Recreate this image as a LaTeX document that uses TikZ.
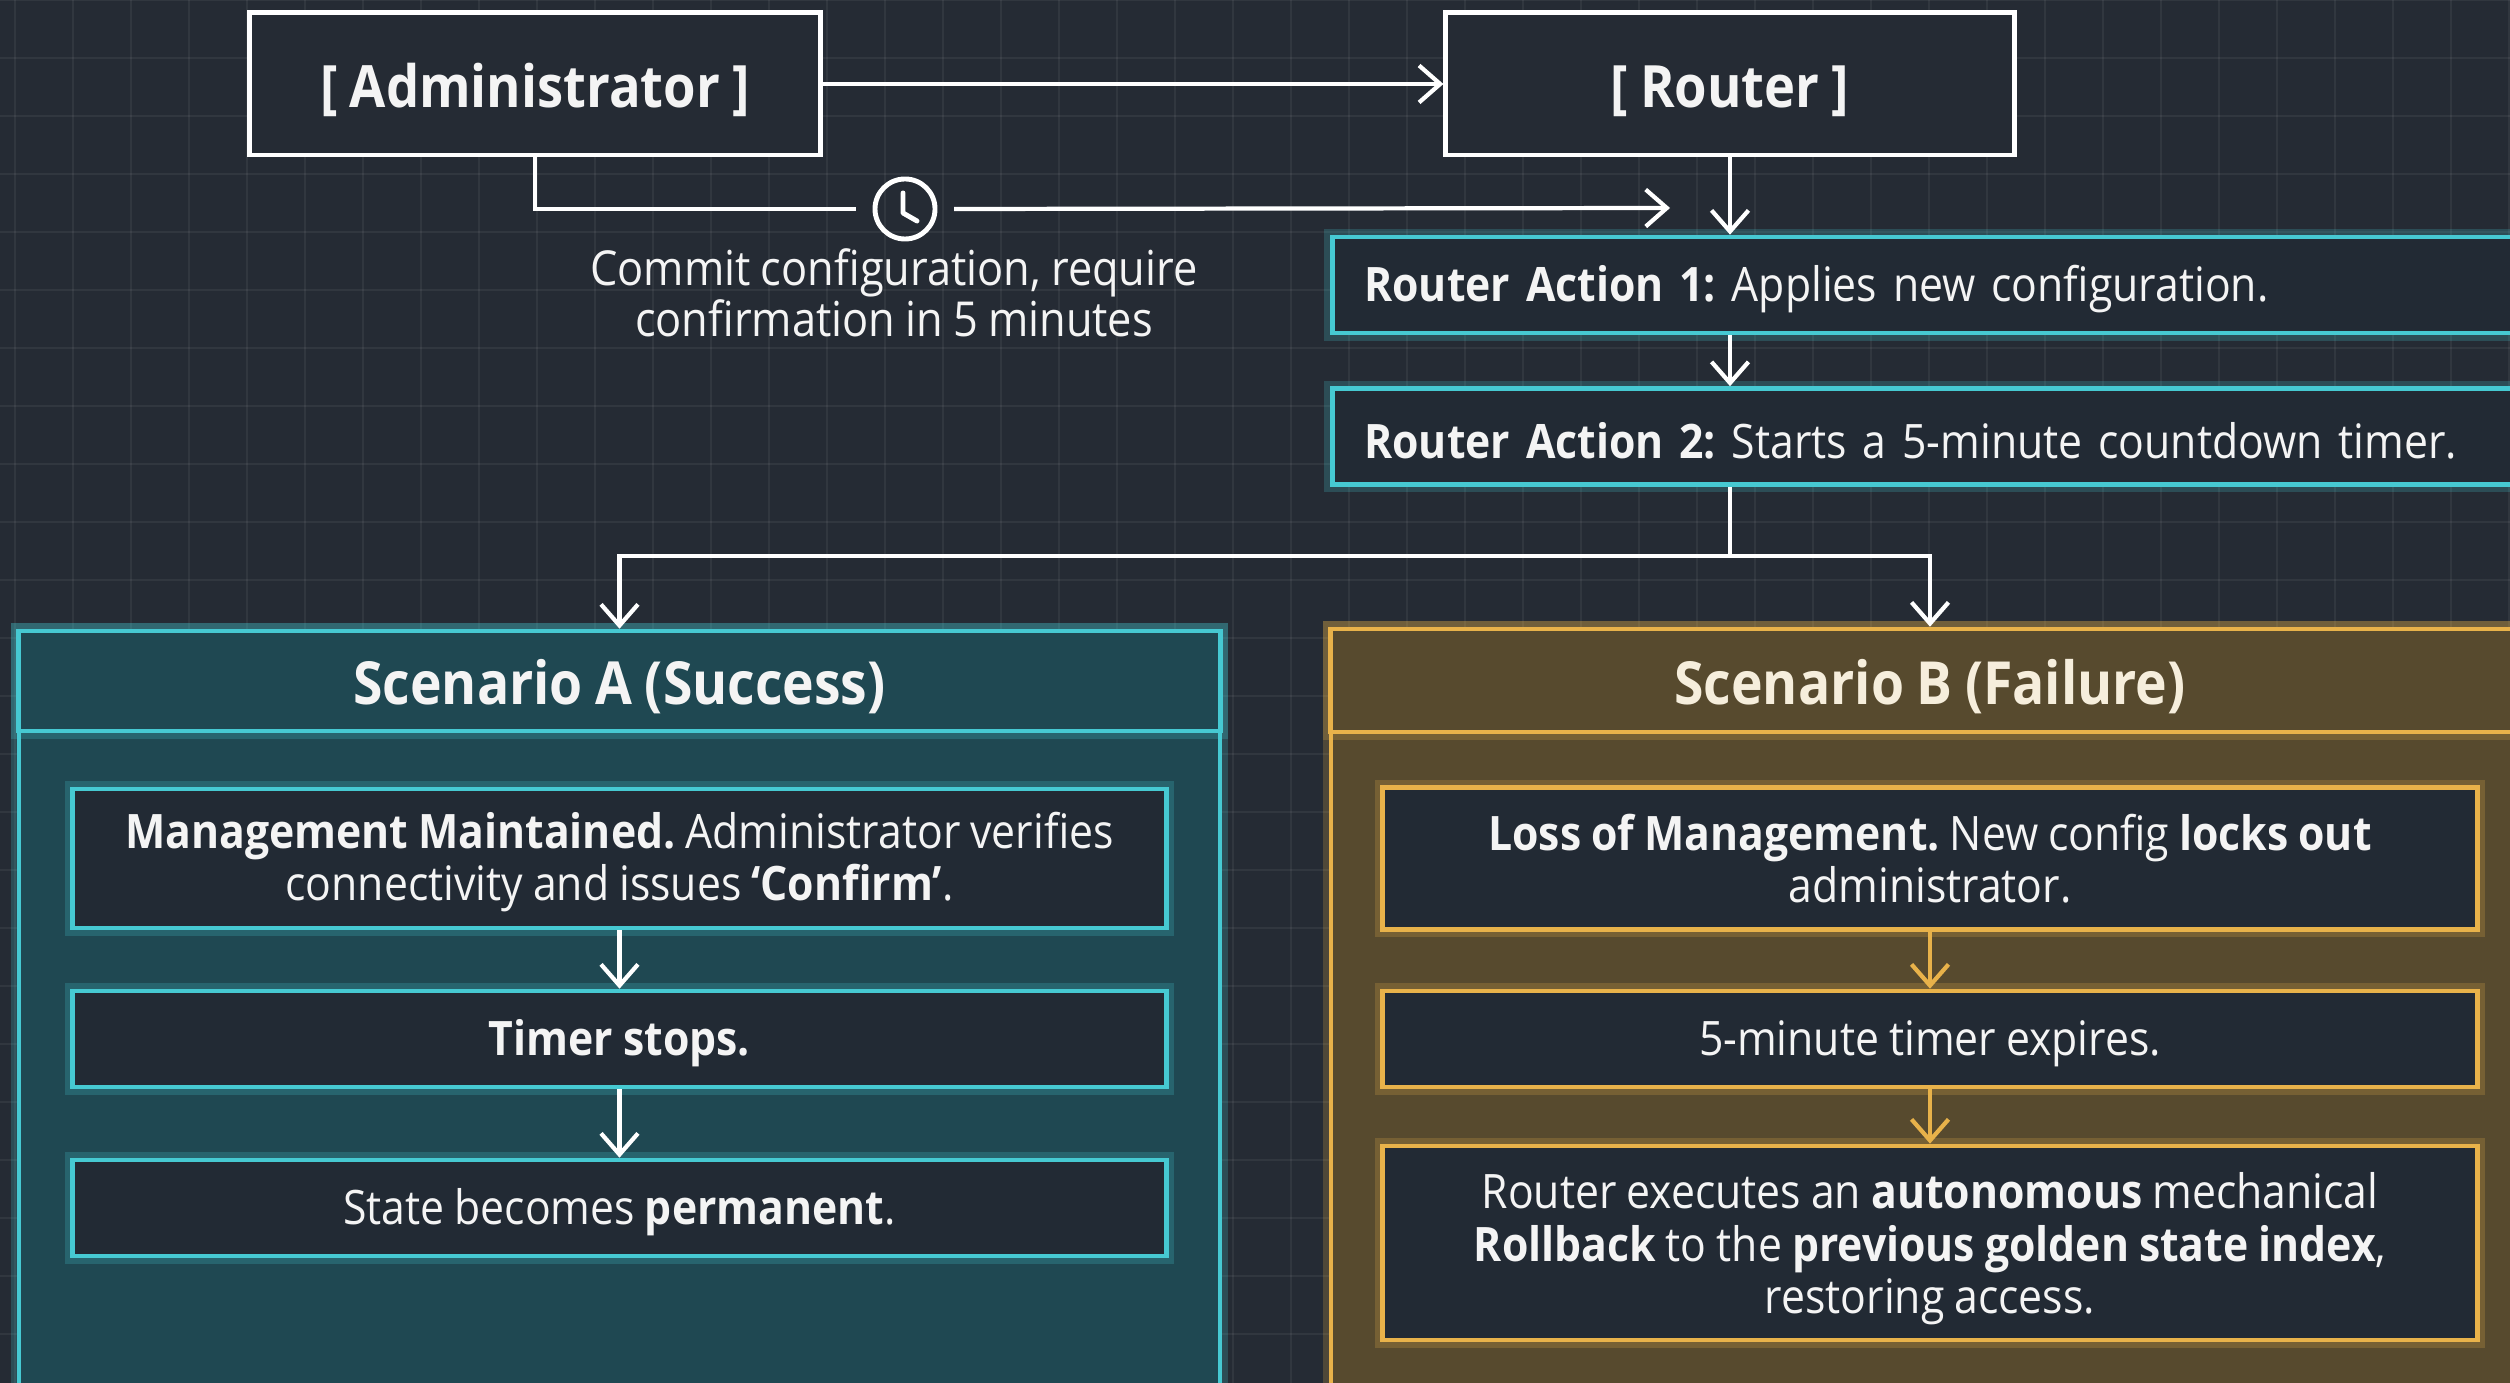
\documentclass[tikz,border=0pt]{standalone}
\usepackage{fontspec}
\setmainfont{Open Sans}[FakeStretch=0.9, WordSpace=0.9]
\usetikzlibrary{arrows.meta}
\definecolor{bg}{HTML}{252B34}
\definecolor{teal1}{HTML}{46C9D2}
\definecolor{gold1}{HTML}{E8B24A}
\definecolor{scAfill}{HTML}{1F4852}
\definecolor{scBfill}{HTML}{574A2E}
\definecolor{innerfill}{HTML}{222A34}
\definecolor{txt}{HTML}{F4F4F4}
\definecolor{creamtxt}{HTML}{F6EEDC}
\begin{document}
\frenchspacing
\begin{tikzpicture}[x=0.01cm,y=-0.01cm,
  lift/.style={execute at begin node={\rule{0pt}{#1}}},
  lift/.default=0.95em,
  bodyfont/.style={font=\fontsize{13.5pt}{14.9pt}\selectfont\frenchspacing, lift},
  titlefont/.style={font=\fontsize{16.6pt}{19pt}\selectfont\bfseries, lift},
  whitebox/.style={draw=white, line width=1.4pt, fill=bg, text=txt, titlefont, inner sep=0pt},
  glowteal/.style={preaction={draw=teal1, line width=4.5pt, draw opacity=0.22}},
  glowgold/.style={preaction={draw=gold1, line width=4.5pt, draw opacity=0.22}},
  actbox/.style={draw=teal1, line width=1.3pt, fill=innerfill, glowteal, text=txt, bodyfont,
     minimum width=12.3cm, minimum height=0.96cm, inner xsep=0.32cm, inner ysep=0pt,
     text width=11.66cm, align=left, anchor=west},
  innerA/.style={draw=teal1, line width=1.3pt, fill=innerfill, glowteal, text=txt, bodyfont,
     minimum width=10.93cm, inner sep=0pt, align=center},
  innerB/.style={draw=gold1, line width=1.3pt, fill=innerfill, glowgold, text=txt, bodyfont,
     minimum width=10.94cm, inner sep=0pt, align=center},
  headA/.style={draw=teal1, line width=1.3pt, fill=scAfill, glowteal, text=txt, titlefont,
     font=\fontsize{16.9pt}{19pt}\selectfont\bfseries,
     minimum width=12.01cm, minimum height=1.0cm, inner sep=0pt},
  headB/.style={draw=gold1, line width=1.3pt, fill=scBfill, glowgold, text=creamtxt, titlefont,
     font=\fontsize{16.9pt}{19pt}\selectfont\bfseries,
     minimum width=11.98cm, minimum height=1.03cm, inner sep=0pt},
  conn/.style={draw=white, line width=1.2pt},
  arr/.style={conn, -{Straight Barb[length=6pt,width=10.5pt]}},
  arrgold/.style={draw=gold1, line width=1.2pt, -{Straight Barb[length=6pt,width=10.5pt]}},
  gridline/.style={draw=white, line width=0.5pt, draw opacity=0.06},
  clockst/.style={circle, draw=white, line width=1.4pt, minimum size=0.6cm, inner sep=0pt, outer sep=0.19cm}
]
\useasboundingbox (0,0) rectangle (2510,1383);
\clip (0,0) rectangle (2510,1383);
\fill[bg] (0,0) rectangle (2510,1383);
% faint grid
\foreach \gx in {15,73,...,2510} \draw[gridline] (\gx,0) -- (\gx,1383);
\foreach \gy in {0,58,...,1383} \draw[gridline] (0,\gy) -- (2510,\gy);

% scenario panels (bodies)
\path[draw=teal1, line width=1.3pt, fill=scAfill, glowteal] (19,631) rectangle (1220,1440);
\path[draw=gold1, line width=1.3pt, fill=scBfill, glowgold] (1331,629) rectangle (2529,1440);

% top nodes
\node[whitebox, minimum width=5.7cm, minimum height=1.42cm] (admin) at (535,84) {[ Administrator ]};
\node[whitebox, minimum width=5.68cm, minimum height=1.42cm] (router) at (1730,84) {[ Router ]};

\node[clockst] (clock) at (905,209) {};
\draw[white, line width=1.4pt, line cap=round, line join=round]
  ([xshift=-0.02cm,yshift=0.16cm]clock.center) -- ([xshift=-0.02cm,yshift=-0.04cm]clock.center)
  -- ([xshift=0.12cm,yshift=-0.12cm]clock.center);
\coordinate (tipA) at (1670,208);

\node[text=txt, font=\fontsize{13.7pt}{14.6pt}\selectfont, lift, align=center] (commit) at (894,293)
  {Commit configuration, require\\confirmation in 5 minutes};

\node[actbox] (act1) at (1330,285) {\textbf{Router Action 1:} Applies new configuration.};
\node[actbox] (act2) at (1330,436.5) {\textbf{Router Action 2:} Starts a 5-minute countdown timer.};

% connectors top
\draw[arr] (admin.east) -- (router.west);
\draw[conn] (admin.south) |- (clock.west);
\draw[arr] (clock.east) -- (tipA);
\draw[arr] (router.south) -- (router.south |- act1.north);
\draw[arr] (router.south |- act1.south) -- (router.south |- act2.north);

% scenario headers
\node[headA] (scA) at (619.5,681) {Scenario A (Success)};
\node[headB] (scB) at (1930,680.5) {Scenario B (Failure)};

\coordinate (split) at (1730,556);
\draw[conn] (router.south |- act2.south) -- (split);
\draw[arr] (split) -| (scA.north);
\draw[arr] (split) -| (scB.north);

% scenario A inner boxes
\node[innerA, minimum height=1.39cm] (a1) at (619.5,858.5)
  {\rule{0pt}{0.92em}\textbf{Management Maintained.} Administrator verifies\\connectivity and issues \textbf{‘Confirm’}.};
\node[innerA, minimum height=0.96cm] (a2) at (619.5,1039) {\textbf{Timer stops.}};
\node[innerA, minimum height=0.96cm] (a3) at (619.5,1208) {State becomes \textbf{permanent}.};
\draw[arr] (a1.south) -- (a2.north);
\draw[arr] (a2.south) -- (a3.north);

% scenario B inner boxes
\node[innerB, minimum height=1.42cm] (b1) at (1930,858.5)
  {\textbf{Loss of Management.} New config \textbf{locks out}\\administrator.};
\node[innerB, minimum height=0.96cm] (b2) at (1930,1039) {5-minute timer expires.};
\node[innerB, minimum height=1.94cm] (b3) at (1930,1243)
  {\rule{0pt}{1.01em}Router executes an \textbf{autonomous} mechanical\\\textbf{Rollback} to the \textbf{previous golden state index},\\restoring access.};
\draw[arrgold] (b1.south) -- (b2.north);
\draw[arrgold] (b2.south) -- (b3.north);
\end{tikzpicture}
\end{document}
